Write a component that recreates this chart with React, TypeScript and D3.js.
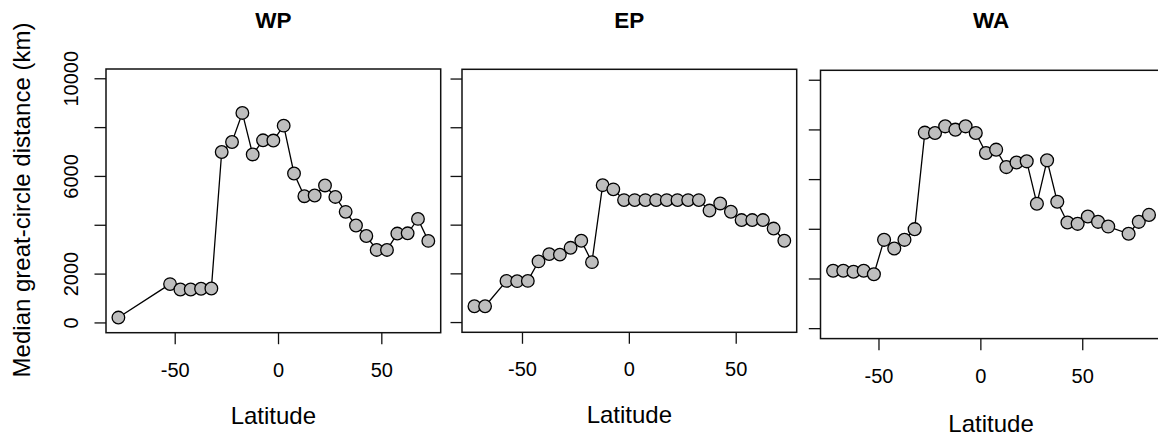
import React from "react";
import * as d3 from "d3";

const panelTitles = ["WP", "EP", "WA"];

const wpLat = [-77.5, -52.5, -47.5, -42.5, -37.5, -32.5, -27.5, -22.5, -17.5, -12.5, -7.5, -2.5, 2.5, 7.5, 12.5, 17.5, 22.5, 27.5, 32.5, 37.5, 42.5, 47.5, 52.5, 57.5, 62.5, 67.5, 72.5];
const wpDist = [220, 1590, 1370, 1370, 1400, 1410, 7000, 7410, 8600, 6900, 7480, 7470, 8080, 6120, 5190, 5220, 5630, 5160, 4550, 3990, 3560, 2990, 2990, 3660, 3670, 4260, 3360];

const epLat = [-72.5, -67.5, -57.5, -52.5, -47.5, -42.5, -37.5, -32.5, -27.5, -22.5, -17.5, -12.5, -7.5, -2.5, 2.5, 7.5, 12.5, 17.5, 22.5, 27.5, 32.5, 37.5, 42.5, 47.5, 52.5, 57.5, 62.5, 67.5, 72.5];
const epDist = [670, 670, 1710, 1700, 1710, 2510, 2810, 2790, 3070, 3360, 2480, 5640, 5470, 5030, 5030, 5030, 5030, 5030, 5030, 5030, 5030, 4600, 4890, 4550, 4210, 4210, 4210, 3860, 3360];

const waLat = [-72.5, -67.5, -62.5, -57.5, -52.5, -47.5, -42.5, -37.5, -32.5, -27.5, -22.5, -17.5, -12.5, -7.5, -2.5, 2.5, 7.5, 12.5, 17.5, 22.5, 27.5, 32.5, 37.5, 42.5, 47.5, 52.5, 57.5, 62.5, 72.5, 77.5, 82.5];
const waDist = [2330, 2330, 2290, 2330, 2190, 3575, 3225, 3575, 4005, 7890, 7875, 8145, 8010, 8145, 7875, 7070, 7205, 6505, 6690, 6735, 5030, 6775, 5110, 4275, 4220, 4515, 4300, 4110, 3820, 4300, 4580];

const xTicks = [-50, 0, 50];
const yTicks = [0, 2000, 4000, 6000, 8000, 10000];
const yTickLabels = ["0", "2000", "", "6000", "", "10000"];
const xLabel = "Latitude";
const yLabel = "Median great-circle distance (km)";

const panelBoxes = [
  { left: 106, right: 440.7, top: 69, bottom: 332.7 },
  { left: 462, right: 796.7, top: 69.3, bottom: 332.3 },
  { left: 820.5, right: 1161.6, top: 70.3, bottom: 338.6 },
];

const panelData = [
  { lat: wpLat, dist: wpDist },
  { lat: epLat, dist: epDist },
  { lat: waLat, dist: waDist },
];

const FONT = "'Liberation Sans', Arial, Helvetica, sans-serif";

function extend(lo: number, hi: number): [number, number] {
  const d = (hi - lo) * 0.04;
  return [lo - d, hi + d];
}

function Panel({ idx }: { idx: number }) {
  const box = panelBoxes[idx];
  const { lat, dist } = panelData[idx];
  const k = (box.bottom - box.top) / 263.5;
  const xDom = extend(d3.min(lat) as number, d3.max(lat) as number);
  const x = d3.scaleLinear().domain(xDom).range([box.left, box.right]);
  const y = d3.scaleLinear().domain(extend(0, 10000)).range([box.bottom, box.top]);
  const pts = lat.map((l, i) => [l, dist[i]] as [number, number]);
  const line = d3
    .line<[number, number]>()
    .x((d) => x(d[0]))
    .y((d) => y(d[1]));
  const tickLen = 11.5 * k;
  const cx = (box.left + box.right) / 2;
  return (
    <g>
      <text
        x={cx}
        y={28.3}
        textAnchor="middle"
        fontFamily={FONT}
        fontWeight="bold"
        fontSize={22.5}
        fill="#000"
      >
        {panelTitles[idx]}
      </text>
      <rect
        x={box.left}
        y={box.top}
        width={box.right - box.left}
        height={box.bottom - box.top}
        fill="none"
        stroke="#111"
        strokeWidth={1.5}
      />
      {xTicks.map((t) => (
        <g key={"xt" + t}>
          <line x1={x(t)} x2={x(t)} y1={box.bottom} y2={box.bottom + tickLen} stroke="#111" strokeWidth={1.3} />
          <text
            x={x(t)}
            y={box.bottom + 44 * k}
            textAnchor="middle"
            fontFamily={FONT}
            fontSize={20}
            fill="#000"
          >
            {t}
          </text>
        </g>
      ))}
      <text
        x={cx}
        y={box.bottom + 91.3 * k}
        textAnchor="middle"
        fontFamily={FONT}
        fontSize={24}
        fill="#000"
      >
        {xLabel}
      </text>
      {yTicks.map((t, i) => (
        <g key={"yt" + t}>
          <line x1={box.left - tickLen} x2={box.left} y1={y(t)} y2={y(t)} stroke="#111" strokeWidth={1.3} />
          {idx === 0 && yTickLabels[i] !== "" ? (
            <text
              transform={`translate(${box.left - 28},${y(t)}) rotate(-90)`}
              textAnchor="middle"
              fontFamily={FONT}
              fontSize={20}
              fill="#000"
            >
              {yTickLabels[i]}
            </text>
          ) : null}
        </g>
      ))}
      <path d={line(pts) || ""} fill="none" stroke="#000" strokeWidth={1.3} />
      {pts.map((p, i) => (
        <circle key={i} cx={x(p[0])} cy={y(p[1])} r={6.3 * k} fill="#BEBEBE" stroke="#000" strokeWidth={1.3} />
      ))}
    </g>
  );
}

export default function App() {
  return (
    <svg
      width={1158}
      height={439}
      style={{ position: "absolute", left: 0, top: 0, background: "#fff" }}
    >
      <rect x={0} y={0} width={1158} height={439} fill="#fff" />
      <text
        transform={`translate(30,200) rotate(-90)`}
        textAnchor="middle"
        fontFamily={FONT}
        fontSize={24}
        fill="#000"
      >
        {yLabel}
      </text>
      {panelTitles.map((_, i) => (
        <Panel key={i} idx={i} />
      ))}
    </svg>
  );
}
